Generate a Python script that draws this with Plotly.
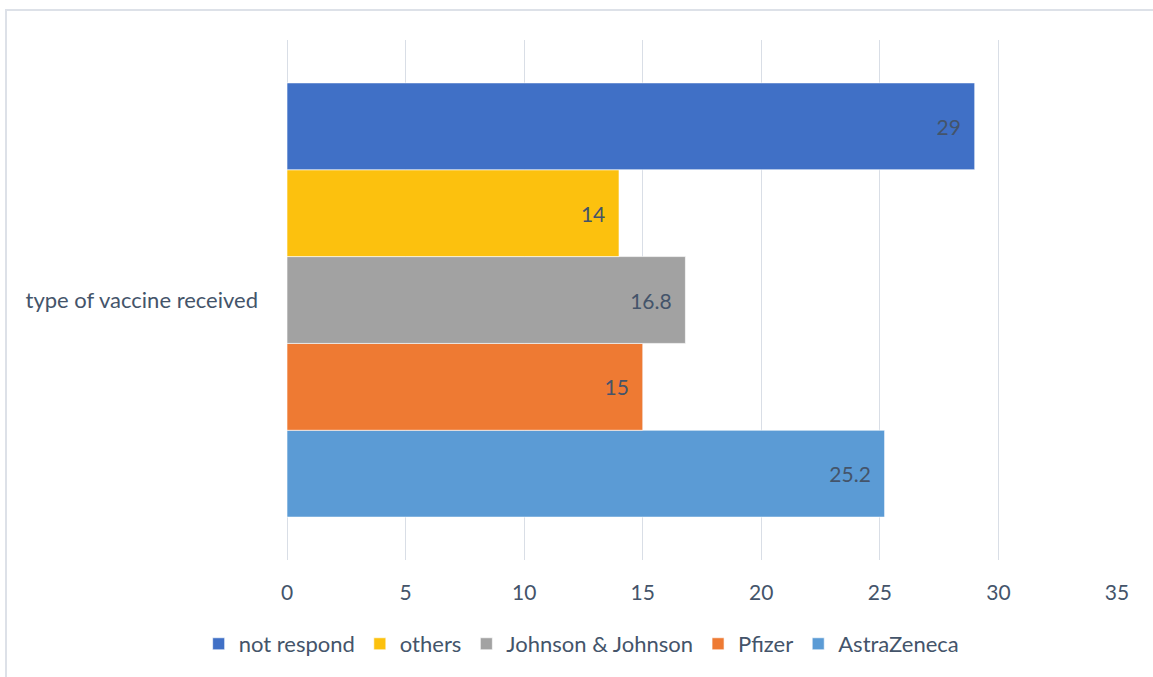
import plotly.graph_objects as go

category = ["type of vaccine received"]
series_names = ["AstraZeneca", "Pfizer", "Johnson & Johnson", "others", "not respond"]
series_values = [25.2, 15, 16.8, 14, 29]
series_colors = ["#5B9BD5", "#EE7A33", "#A2A2A2", "#FCC10E", "#4070C6"]
x_ticks = [0, 5, 10, 15, 20, 25, 30, 35]

FONT = "Lato, 'Open Sans', sans-serif"
TXT = "#44546A"
FS = 22

fig = go.Figure()
for name, val, col in zip(series_names, series_values, series_colors):
    fig.add_trace(go.Bar(
        y=category, x=[val], name=name, orientation="h",
        marker=dict(color=col, line=dict(color="rgba(255,255,255,0.6)", width=1)),
        text=[val], texttemplate="%{x}\u00a0\u00a0", textposition="inside",
        insidetextanchor="end",
        textfont=dict(family=FONT, size=21, color=TXT),
        constraintext="none",
    ))

fig.update_layout(
    width=1153, height=677,
    margin=dict(l=287, r=36, t=40, b=117),
    paper_bgcolor="white", plot_bgcolor="white",
    barmode="group", bargap=0.165, bargroupgap=0,
    font=dict(family=FONT, size=FS, color=TXT),
    showlegend=True,
    legend=dict(orientation="h", traceorder="reversed", x=0.355, xanchor="center",
                y=-0.1615, yanchor="middle", font=dict(family=FONT, size=FS, color=TXT),
                itemwidth=30),
    xaxis=dict(range=[0, 35], tickvals=x_ticks, showgrid=True, gridcolor="#D9DEE6",
               gridwidth=1, zeroline=True, zerolinecolor="#D9DEE6", zerolinewidth=1,
               showline=False, ticks="",
               ticklabelstandoff=18, tickfont=dict(family=FONT, size=21, color=TXT)),
    yaxis=dict(showgrid=False, showline=False, ticks="", ticklabelstandoff=28,
               tickfont=dict(family=FONT, size=FS, color=TXT)),
    shapes=[dict(type="rect", xref="paper", yref="paper",
                 x0=(6 - 287) / 830, x1=1.2, y0=-0.5, y1=(560 - 10) / 520,
                 line=dict(color="#DDE1E8", width=2), layer="below")],
)

fig.write_html("out.html")
